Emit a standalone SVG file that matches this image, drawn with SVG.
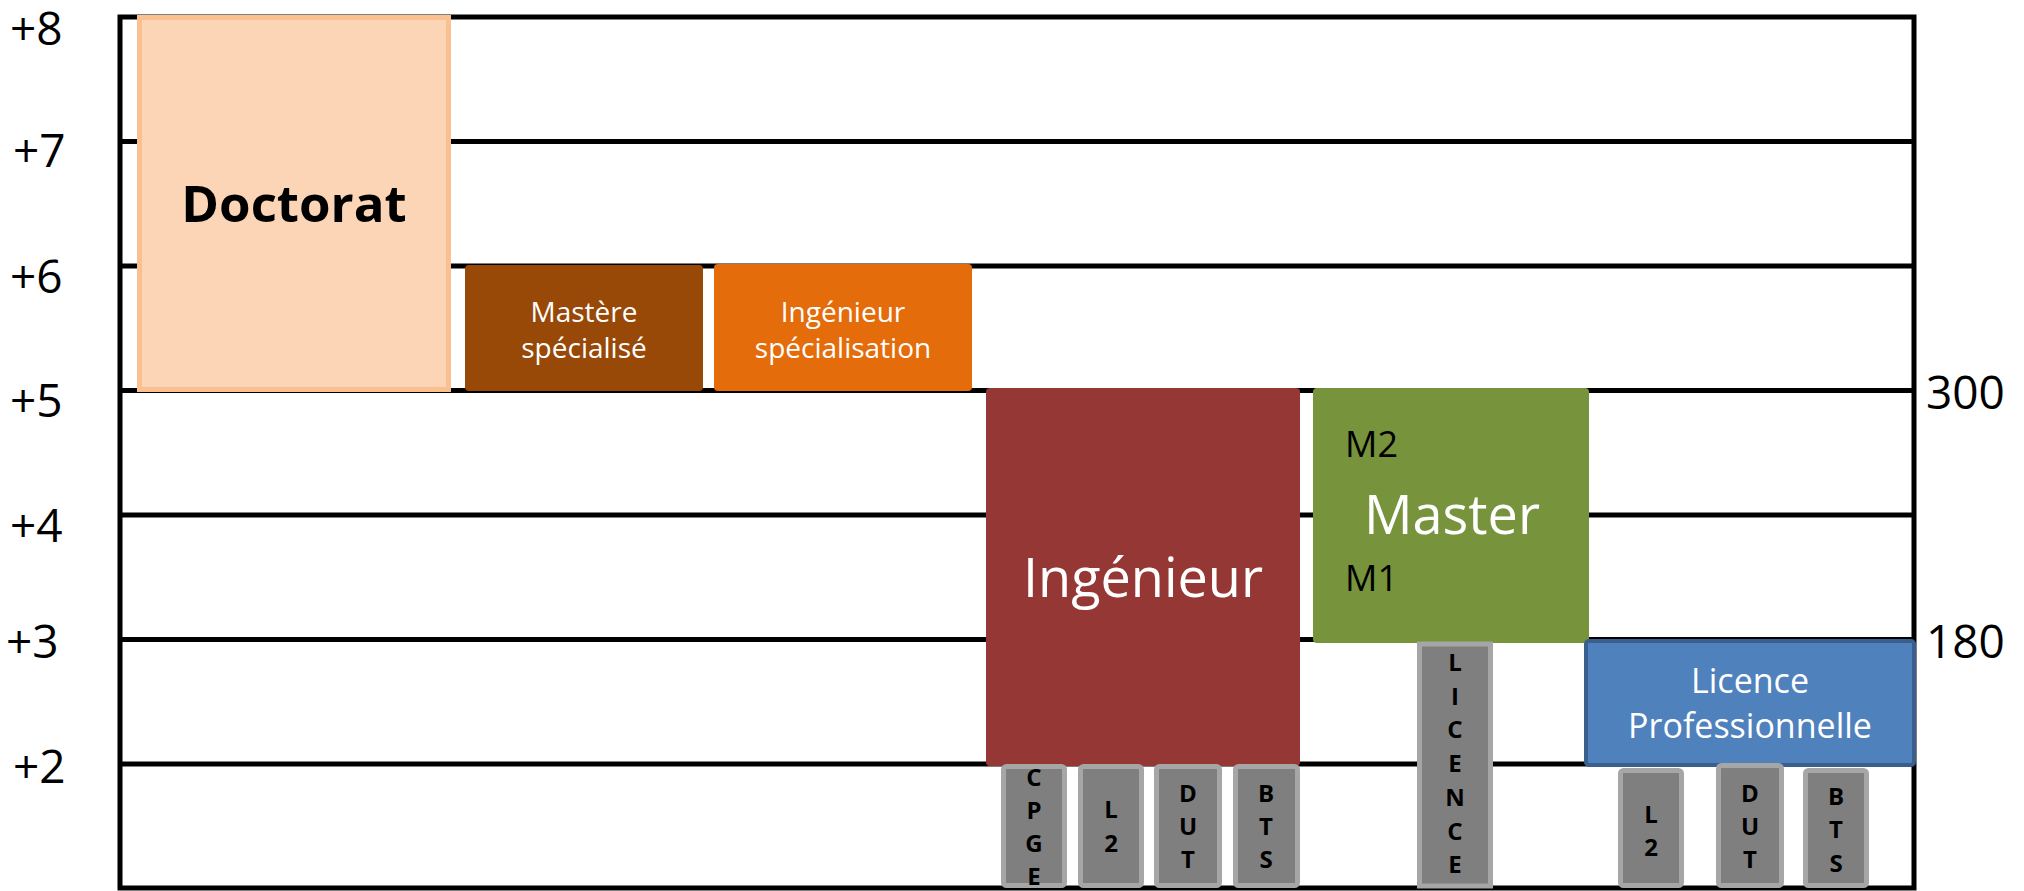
<svg xmlns="http://www.w3.org/2000/svg" width="2024" height="891" viewBox="0 0 2024 891">
<style>
.axis{stroke:#000;stroke-width:5;fill:none}
.lbl{font-family:"Open Sans","Noto Sans","Liberation Sans",sans-serif;font-size:46px;fill:#000}
.small{font-family:"Open Sans","Noto Sans","Liberation Sans",sans-serif;font-size:28px;fill:#fff;text-anchor:middle}
.big{font-family:"Open Sans","Noto Sans","Liberation Sans",sans-serif;fill:#fff;text-anchor:middle}
.gray{fill:#7F7F7F;stroke:#A6A6A6;stroke-width:5}
.let{font-family:"Open Sans","Noto Sans","Liberation Sans",sans-serif;font-size:24px;font-weight:bold;fill:#000;text-anchor:middle}
</style>
<rect width="2024" height="891" fill="#fff"/>
<g id="grid">
<path class="axis" d="M120 17H1914M120 141.5H1914M120 266H1914M120 390.5H1914M120 515H1914M120 639.5H1914M120 764H1914M120 888H1914M120 14.5V890.5M1914 14.5V890.5"/>
</g>
<g id="labels">
<text class="lbl" x="10" y="45">+8</text>
<text class="lbl" x="13" y="167">+7</text>
<text class="lbl" x="10" y="293">+6</text>
<text class="lbl" x="10" y="417">+5</text>
<text class="lbl" x="10" y="542">+4</text>
<text class="lbl" x="6" y="658">+3</text>
<text class="lbl" x="13" y="783">+2</text>
<text class="lbl" x="1926" y="409">300</text>
<text class="lbl" x="1926" y="658">180</text>
</g>
<g id="doctorat">
<rect x="139.5" y="17.5" width="309" height="372" fill="#FBD5B5" stroke="#FAC090" stroke-width="5"/>
<text x="294" y="222" font-family="'Open Sans','Noto Sans','Liberation Sans',sans-serif" font-size="51" font-weight="bold" fill="#000" text-anchor="middle">Doctorat</text>
</g>
<g id="mastere">
<rect x="465" y="265" width="238" height="126" rx="4" fill="#984807"/>
<text class="small" x="584" y="322">Mastère</text>
<text class="small" x="584" y="358">spécialisé</text>
</g>
<g id="ingspec">
<rect x="714" y="264" width="258" height="127" rx="4" fill="#E46C0A"/>
<text class="small" x="843" y="322">Ingénieur</text>
<text class="small" x="843" y="358">spécialisation</text>
</g>
<g id="ingenieur">
<rect x="986" y="388" width="314" height="378" rx="4" fill="#953735"/>
<text class="big" x="1143" y="597" font-size="54">Ingénieur</text>
</g>
<g id="master">
<rect x="1313" y="388" width="276" height="255" rx="4" fill="#77933C"/>
<text x="1345" y="457" font-family="'Open Sans','Noto Sans','Liberation Sans',sans-serif" font-size="36" fill="#000">M2</text>
<text class="big" x="1452" y="534" font-size="54">Master</text>
<text x="1345" y="591" font-family="'Open Sans','Noto Sans','Liberation Sans',sans-serif" font-size="36" fill="#000">M1</text>
</g>
<g id="licence">
<rect class="gray" x="1419.5" y="644" width="71" height="242"/>
<text class="let" x="1455" y="671">L</text>
<text class="let" x="1455" y="705">I</text>
<text class="let" x="1455" y="738">C</text>
<text class="let" x="1455" y="772">E</text>
<text class="let" x="1455" y="806">N</text>
<text class="let" x="1455" y="840">C</text>
<text class="let" x="1455" y="873">E</text>
</g>
<g id="licencepro">
<rect x="1586" y="641" width="328" height="124" rx="3" fill="#4F81BD" stroke="#3A5F8C" stroke-width="4"/>
<text class="big" x="1750" y="693" font-size="34">Licence</text>
<text class="big" x="1750" y="738" font-size="34">Professionnelle</text>
</g>
<g id="cpge">
<rect class="gray" x="1003.5" y="766.5" width="61" height="119" rx="3"/>
<text class="let" x="1034" y="786">C</text>
<text class="let" x="1034" y="819">P</text>
<text class="let" x="1034" y="852">G</text>
<text class="let" x="1034" y="885">E</text>
</g>
<g id="l2a">
<rect class="gray" x="1080.5" y="766.5" width="61" height="119" rx="3"/>
<text class="let" x="1111" y="818">L</text>
<text class="let" x="1111" y="852">2</text>
</g>
<g id="duta">
<rect class="gray" x="1156.5" y="766.5" width="63" height="119" rx="3"/>
<text class="let" x="1188" y="802">D</text>
<text class="let" x="1188" y="835">U</text>
<text class="let" x="1188" y="868">T</text>
</g>
<g id="btsa">
<rect class="gray" x="1235.5" y="766.5" width="62" height="119" rx="3"/>
<text class="let" x="1266" y="802">B</text>
<text class="let" x="1266" y="835">T</text>
<text class="let" x="1266" y="868">S</text>
</g>
<g id="l2b">
<rect class="gray" x="1620.5" y="770.5" width="61" height="115" rx="3"/>
<text class="let" x="1651" y="823">L</text>
<text class="let" x="1651" y="856">2</text>
</g>
<g id="dutb">
<rect class="gray" x="1718.5" y="765.5" width="63" height="120" rx="3"/>
<text class="let" x="1750" y="802">D</text>
<text class="let" x="1750" y="835">U</text>
<text class="let" x="1750" y="868">T</text>
</g>
<g id="btsb">
<rect class="gray" x="1805.5" y="770.5" width="61" height="115" rx="3"/>
<text class="let" x="1836" y="805">B</text>
<text class="let" x="1836" y="838">T</text>
<text class="let" x="1836" y="872">S</text>
</g>
<g id="connectors"></g>
</svg>
